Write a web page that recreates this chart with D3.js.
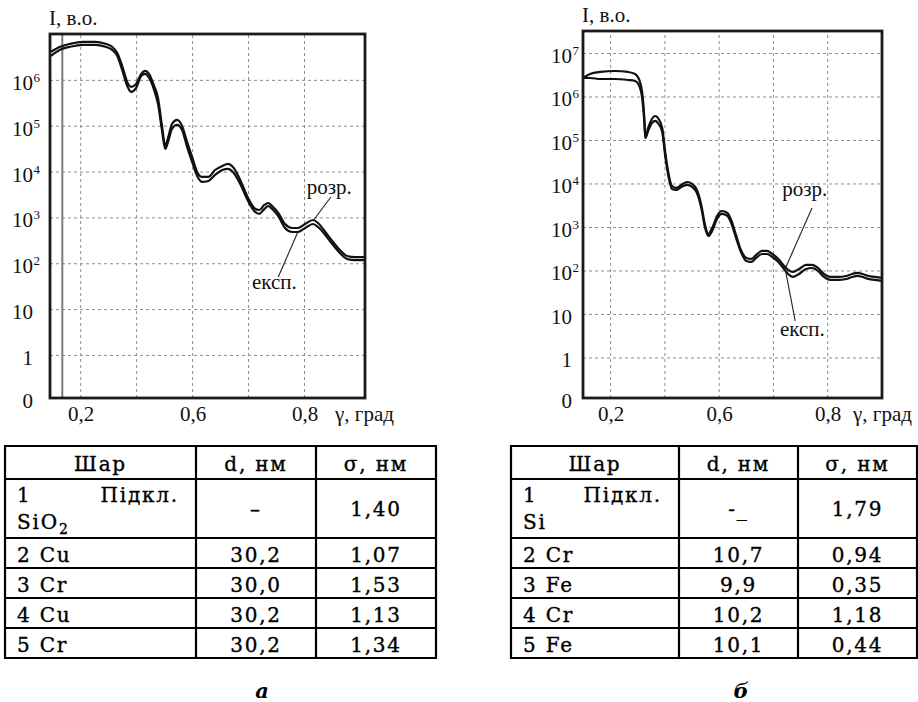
<!DOCTYPE html>
<html>
<head>
<meta charset="utf-8">
<script src="https://cdn.jsdelivr.net/npm/d3@7"></script>
<style>
  body { margin: 0; background: #fff; }
  text { font-family: "Liberation Serif", "Times New Roman", serif; fill: #111; }
  .tbl text { font-family: "DejaVu Serif", serif; font-size: 20px; letter-spacing: 1.8px; fill: #000; stroke: #000; stroke-width: 0.35px; }
</style>
</head>
<body>
<svg id="fig" width="918" height="702"></svg>
<script>
// panel a: reflectivity, angle in degrees, intensity in arb. units
var angleA = [0.148, 0.164, 0.182, 0.205, 0.227, 0.245, 0.257, 0.266, 0.275, 0.284,
  0.291, 0.300, 0.309, 0.316, 0.323, 0.332, 0.339, 0.346, 0.352, 0.357,
  0.364, 0.373, 0.382, 0.391, 0.400, 0.409, 0.418, 0.429, 0.441, 0.454,
  0.464, 0.473, 0.486, 0.500, 0.511, 0.520, 0.529, 0.536, 0.543, 0.554,
  0.566, 0.579, 0.589, 0.602, 0.616, 0.625, 0.638, 0.652, 0.664, 0.677,
  0.691, 0.709];
var calcA = [4.09e6, 5.26e6, 6.11e6, 6.76e6, 6.76e6, 6.11e6, 5.26e6, 3.89e6, 2.02e6, 9.04e5,
  7.03e5, 8.18e5, 1.35e6, 1.57e6, 1.35e6, 7.40e5, 4.04e5, 1.04e5, 3.62e4, 5.42e4,
  1.09e5, 1.34e5, 9.91e4, 4.43e4, 2.08e4, 9.80e3, 7.62e3, 7.62e3, 1.08e4, 1.32e4,
  1.47e4, 1.26e4, 6.56e3, 2.65e3, 1.60e3, 1.45e3, 1.87e3, 2.06e3, 1.77e3, 1.25e3,
  718, 587, 587, 718, 877, 755, 480, 290, 194, 144,
  136, 136];
var expA = [3.34e6, 4.52e6, 5.26e6, 5.81e6, 5.81e6, 5.26e6, 4.52e6, 3.34e6, 1.65e6, 7.40e5,
  5.47e5, 6.68e5, 1.22e6, 1.35e6, 1.11e6, 6.05e5, 2.99e5, 8.09e4, 3.11e4, 4.43e4,
  8.51e4, 1.04e5, 8.09e4, 3.44e4, 1.62e4, 8.01e3, 5.93e3, 6.24e3, 8.43e3, 1.08e4,
  1.14e4, 9.80e3, 5.36e3, 2.28e3, 1.38e3, 1.19e3, 1.52e3, 1.77e3, 1.52e3, 1.07e3,
  587, 480, 480, 587, 718, 617, 413, 249, 167, 124,
  117, 117];
var markerA = 0.168;

// panel b
var angleB = [0.150, 0.163, 0.182, 0.209, 0.233, 0.246, 0.253, 0.259, 0.263, 0.265,
  0.270, 0.277, 0.283, 0.288, 0.296, 0.301, 0.307, 0.314, 0.322, 0.331,
  0.342, 0.351, 0.360, 0.368, 0.375, 0.381, 0.388, 0.397, 0.406, 0.416,
  0.423, 0.432, 0.441, 0.451, 0.460, 0.469, 0.480, 0.489, 0.499, 0.510,
  0.519, 0.528, 0.537, 0.548, 0.561, 0.572, 0.583, 0.594, 0.606, 0.620,
  0.635, 0.646, 0.655, 0.665, 0.676, 0.688, 0.701];
var calcB = [2.66e6, 3.29e6, 3.66e6, 3.85e6, 3.66e6, 3.29e6, 2.52e6, 1.27e6, 3.21e5, 1.11e5,
  1.89e5, 3.04e5, 3.56e5, 3.21e5, 1.89e5, 5.89e4, 1.84e4, 8.77e3, 7.89e3, 9.25e3,
  1.08e4, 9.75e3, 7.10e3, 3.21e3, 1.11e3, 690, 948, 1.79e3, 2.33e3, 2.10e3,
  1.45e3, 655, 296, 194, 184, 227, 281, 281, 239, 184,
  134, 103, 92.4, 108, 134, 134, 114, 83.2, 71.0, 71.0,
  74.8, 83.2, 87.7, 83.2, 74.8, 71.0, 67.3];
var expB = [2.66e6, 2.66e6, 2.52e6, 2.52e6, 2.39e6, 2.27e6, 1.84e6, 9.25e5, 2.59e5, 1.11e5,
  1.61e5, 2.46e5, 2.74e5, 2.46e5, 1.53e5, 4.77e4, 1.57e4, 7.48e3, 7.10e3, 8.32e3,
  9.25e3, 8.32e3, 6.05e3, 2.74e3, 948, 621, 809, 1.53e3, 1.99e3, 1.79e3,
  1.24e3, 558, 266, 165, 157, 194, 239, 239, 204, 157,
  114, 83.2, 71.0, 83.2, 108, 114, 97.5, 71.0, 60.5, 60.5,
  63.8, 71.0, 74.8, 71.0, 63.8, 60.5, 57.4];

var gridAngles = [0.2, 0.3, 0.4, 0.5, 0.6];
var xTickValues = [0.2, 0.4, 0.6];
var xTickLabels = ["0,2", "0,6", "0,8"];
var yTicksA = [1, 10, 1e2, 1e3, 1e4, 1e5, 1e6];
var yTicksB = [1, 10, 1e2, 1e3, 1e4, 1e5, 1e6, 1e7];

var notesA = [
  { text: "розр.", at: [0.605, 3.24e3], from: [0.648, 2.79e3], to: [0.616, 834] },
  { text: "експ.", at: [0.507, 27.4], from: [0.554, 50], to: [0.589, 480] }
];
var notesB = [
  { text: "розр.", at: [0.517, 5.16e3], from: [0.572, 2.74e3], to: [0.524, 120] },
  { text: "експ.", at: [0.513, 3.12], from: [0.541, 6.9], to: [0.523, 103] }
];

// tables
var headers = ["Шар", "d, нм", "σ, нм"];
var layersA = ["2 Cu", "3 Cr", "4 Cu", "5 Cr"];
var thickA = ["–", "30,2", "30,0", "30,2", "30,2"];
var roughA = ["1,40", "1,07", "1,53", "1,13", "1,34"];
var layersB = ["2 Cr", "3 Fe", "4 Cr", "5 Fe"];
var thickB = ["-_", "10,7", "9,9", "10,2", "10,1"];
var roughB = ["1,79", "0,94", "0,35", "1,18", "0,44"];

var svg = d3.select("#fig");

function panel(o) {
  var x = d3.scaleLinear().domain(o.xDomain).range([o.left, o.right]);
  var y = d3.scaleLog().domain(o.yDomain).range([o.bottom, o.top]);
  var w = o.right - o.left, h = o.bottom - o.top;
  var g = svg.append("g");

  // dotted grid
  g.append("g").attr("transform", "translate(0," + o.bottom + ")")
    .call(d3.axisBottom(x).tickValues(gridAngles).tickSize(-h).tickFormat(""))
    .call(function (a) { a.select(".domain").remove(); })
    .selectAll("line").attr("stroke", "#8c8c8c").attr("stroke-dasharray", "3,3");
  g.append("g").attr("transform", "translate(" + o.left + ",0)")
    .call(d3.axisLeft(y).tickValues(o.yTicks).tickSize(-w).tickFormat(""))
    .call(function (a) { a.select(".domain").remove(); })
    .selectAll("line").attr("stroke", "#8c8c8c").attr("stroke-dasharray", "3,3");

  if (o.marker) {
    g.append("line")
      .attr("x1", x(o.marker)).attr("x2", x(o.marker))
      .attr("y1", o.top).attr("y2", o.bottom)
      .attr("stroke", "#7a7a7a").attr("stroke-width", 2);
  }

  var line = d3.line()
    .x(function (d) { return x(d[0]); })
    .y(function (d) { return y(d[1]); })
    .curve(d3.curveMonotoneX);
  [o.exp, o.calc].forEach(function (s) {
    g.append("path")
      .datum(o.angle.map(function (a, i) { return [a, s[i]]; }))
      .attr("fill", "none").attr("stroke", "#111").attr("stroke-width", 2.2)
      .attr("d", line);
  });

  // frame
  g.append("rect")
    .attr("x", o.left).attr("y", o.top).attr("width", w).attr("height", h)
    .attr("fill", "none").attr("stroke", "#1a1a1a").attr("stroke-width", 2.8);

  // annotations
  o.notes.forEach(function (n) {
    g.append("line")
      .attr("x1", x(n.from[0])).attr("y1", y(n.from[1]))
      .attr("x2", x(n.to[0])).attr("y2", y(n.to[1]))
      .attr("stroke", "#222").attr("stroke-width", 1.1);
    g.append("text").attr("x", x(n.at[0])).attr("y", y(n.at[1]))
      .attr("font-size", 21).text(n.text);
  });

  // tick labels
  g.selectAll(".xl").data(xTickValues).enter().append("text")
    .attr("x", function (d) { return x(d) + 1; })
    .attr("y", o.bottom + 23)
    .attr("text-anchor", "middle").attr("font-size", 21)
    .text(function (d, i) { return xTickLabels[i]; });

  var yl = [o.yDomain[0]].concat(o.yTicks);
  yl.forEach(function (d) {
    var e = Math.round(Math.log10(d));
    var base = d < 1 ? "0" : (e < 2 ? String(Math.pow(10, e)) : "10");
    g.append("text").attr("x", o.labelX).attr("y", y(d) + 10)
      .attr("text-anchor", "end").attr("font-size", 21).text(base);
    if (d >= 1 && e >= 2) {
      g.append("text").attr("x", o.labelX + 0.5).attr("y", y(d) + 2)
        .attr("font-size", 13).text(e);
    }
  });

  g.append("text").attr("x", o.left - 1).attr("y", o.top - 9)
    .attr("font-size", 21).text("I, в.о.");
  g.append("text").attr("x", o.xTitleX).attr("y", o.bottom + 23)
    .attr("font-size", 21).text("γ, град");
}

panel({
  left: 50, right: 365, top: 34, bottom: 398,
  xDomain: [0.146, 0.709], yDomain: [0.115, 1e7],
  yTicks: yTicksA, angle: angleA, calc: calcA, exp: expA,
  marker: markerA, notes: notesA, labelX: 33, xTitleX: 335
});
panel({
  left: 583, right: 882, top: 31, bottom: 398,
  xDomain: [0.150, 0.701], yDomain: [0.117, 3.2e7],
  yTicks: yTicksB, angle: angleB, calc: calcB, exp: expB,
  marker: null, notes: notesB, labelX: 572, xTitleX: 853
});

function table(o) {
  var g = svg.append("g").attr("class", "tbl");
  var cols = o.cols, rows = [446, 479, 538, 568, 598, 628, 658];
  var mid = function (i) { return (cols[i] + cols[i + 1]) / 2; };

  g.selectAll(".h").data(rows).enter().append("line")
    .attr("x1", cols[0] - 1).attr("x2", cols[3] + 1)
    .attr("y1", function (d) { return d; }).attr("y2", function (d) { return d; })
    .attr("stroke", "#000").attr("stroke-width", 2.2);
  g.selectAll(".v").data(cols).enter().append("line")
    .attr("x1", function (d) { return d; }).attr("x2", function (d) { return d; })
    .attr("y1", rows[0]).attr("y2", rows[6])
    .attr("stroke", "#000").attr("stroke-width", 2.2);

  headers.forEach(function (t, i) {
    g.append("text").attr("x", mid(i)).attr("y", rows[1] - 8)
      .attr("text-anchor", "middle").text(t);
  });

  // substrate row
  g.append("text").attr("x", cols[0] + 12).attr("y", 502).text("1");
  g.append("text").attr("x", cols[1] - 17).attr("y", 502)
    .attr("text-anchor", "end").text("Підкл.");
  var sub = g.append("text").attr("x", cols[0] + 12).attr("y", 529).text(o.substrate[0]);
  if (o.substrate[1]) {
    sub.append("tspan").attr("font-size", 14).attr("dy", 5).text(o.substrate[1]);
  }
  g.append("text").attr("x", mid(1)).attr("y", 516).attr("text-anchor", "middle").text(o.thick[0]);
  g.append("text").attr("x", mid(2)).attr("y", 516).attr("text-anchor", "middle").text(o.rough[0]);

  o.layers.forEach(function (t, i) {
    var yb = rows[i + 3] - 6;
    g.append("text").attr("x", cols[0] + 12).attr("y", yb).text(t);
    g.append("text").attr("x", mid(1)).attr("y", yb).attr("text-anchor", "middle").text(o.thick[i + 1]);
    g.append("text").attr("x", mid(2)).attr("y", yb).attr("text-anchor", "middle").text(o.rough[i + 1]);
  });

  g.append("text").attr("x", o.captionX).attr("y", 698)
    .attr("text-anchor", "middle")
    .style("font-style", "italic").style("font-weight", "bold")
    .style("font-size", "21px").style("letter-spacing", "0").style("stroke-width", "0")
    .text(o.caption);
}

table({ cols: [5, 196, 316, 436], layers: layersA, thick: thickA, rough: roughA,
  substrate: ["SiO", "2"], caption: "a", captionX: 262 });
table({ cols: [511, 679, 798, 917], layers: layersB, thick: thickB, rough: roughB,
  substrate: ["Si", ""], caption: "б", captionX: 741 });
</script>
</body>
</html>
